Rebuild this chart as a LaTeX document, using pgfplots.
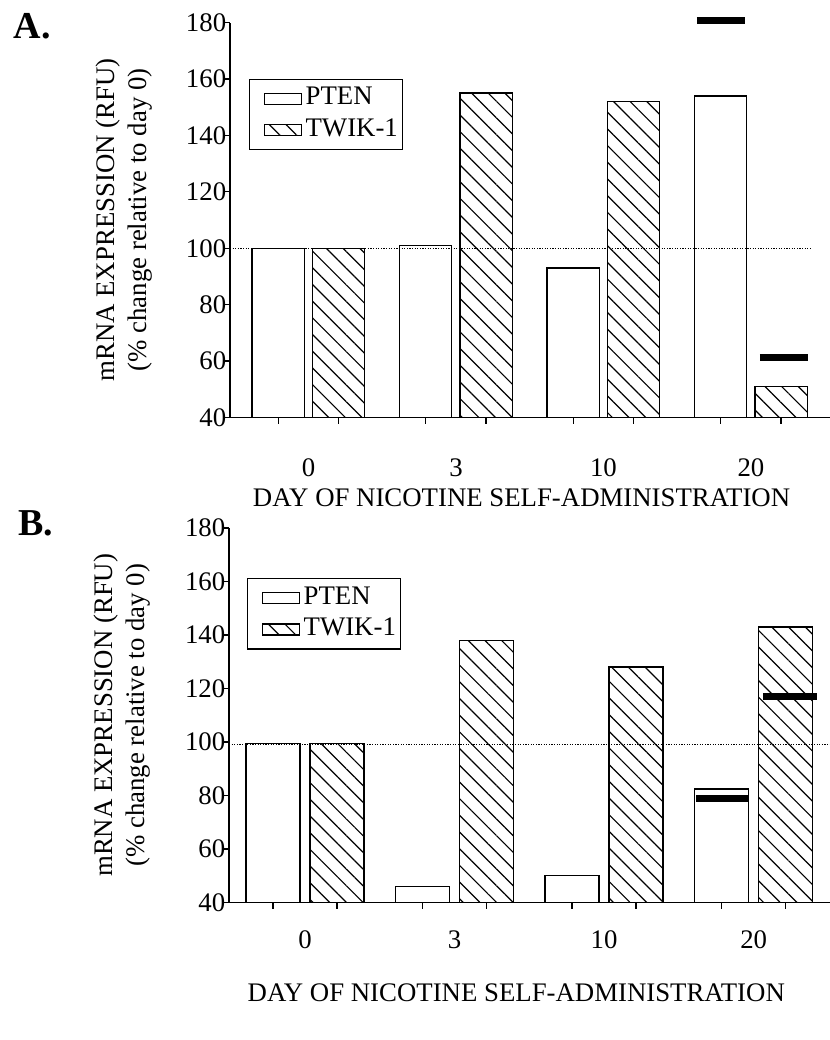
\documentclass[border=0pt]{standalone}
\usepackage{fontspec}
\setmainfont{Liberation Serif}
\usepackage{pgfplots}
\pgfplotsset{compat=1.18}
\usetikzlibrary{patterns.meta}
\newcommand\ff{\fontsize{13.4}{16}\selectfont}

\pgfplotsset{
  panel/.style={
    scale only axis,
    axis x line=bottom, axis y line=left,
    axis line style={-, line width=0.9pt},
    tick align=outside, major tick length=3pt,
    tick style={line width=0.7pt, black},
    clip=false,
    y filter/.expression={y-40},
    ymin=0, ymax=140,
    ytick={0,20,40,60,80,100,120,140},
    yticklabels={40,60,80,100,120,140,160,180},
    yticklabel style={inner sep=0pt, xshift=1.3pt},
    /pgf/number format/assume math mode=true,
    tick label style={font=\ff},
    label style={font=\ff},
    xticklabels={,,,,,,,},
    extra x ticks={0,1,2,3},
    extra x tick labels={0,3,10,20},
    xlabel={DAY OF NICOTINE SELF-ADMINISTRATION},
    ylabel={mRNA EXPRESSION (RFU)\\(\% change relative to day 0)},
    legend cell align=left,
    legend style={font=\ff, draw=black, line width=0.6pt, anchor=north west,
      inner xsep=0.5pt, inner ysep=2pt, row sep=0pt,
      nodes={inner sep=1.8pt, text height=9pt, text depth=3pt}},
  },
  pten/.style={ybar, bar shift=0pt, draw=black, line width=0.7pt, fill=none,
    legend image code/.code={\path (0pt,0pt); \draw[black, line width=0.7pt] (6.5pt,-2.75pt) rectangle (25pt,2.75pt);}},
  twik/.style={ybar, bar shift=0pt, draw=black, line width=0.7pt,
    pattern={Lines[angle=-45,distance=5.9pt,line width=0.6pt]},
    legend image code/.code={\path (0pt,0pt); \draw[black, line width=0.7pt, pattern={Lines[angle=-45,distance=5.9pt,line width=0.6pt]}] (6.5pt,-2.75pt) rectangle (25pt,2.75pt);}},
  sig/.style={black, line width=3.5pt, forget plot},
  ref/.style={black, line width=0.6pt, dash pattern=on 0.6pt off 0.7pt, forget plot},
}

\begin{document}
\ff
\begin{tikzpicture}
\path[use as bounding box] (0,0) rectangle (415pt,-520pt);

\node[font=\fontsize{19}{22}\selectfont\bfseries] at (16.2pt,-13pt) {A.};
\node[font=\fontsize{19}{22}\selectfont\bfseries] at (17.8pt,-261.8pt) {B.};

% Panel A
\begin{axis}[panel, at={(115pt,-208.75pt)}, anchor=south west,
  width=300pt, height=197.5pt,
  xmin=-0.532, xmax=3.536,
  xtick={-0.205,0.205,0.795,1.205,1.795,2.205,2.795,3.205},
  extra x tick style={major tick length=0pt, xticklabel style={yshift=-16pt}},
  xlabel style={at={(axis description cs:0.486,-0.2025)}, anchor=center},
  ylabel style={at={(axis description cs:-0.177,0.5)}, anchor=center, align=center},
  legend style={at={(axis description cs:0.0317,0.858)}},
]
\addplot[pten, bar width=0.353] coordinates {(-0.205,100) (0.795,101) (1.795,93) (2.795,154)};
\addplot[twik, bar width=0.353] coordinates {(0.205,100) (1.205,155) (2.205,152) (3.205,51)};
\legend{PTEN,TWIK-1}
\addplot[ref] coordinates {(-0.532,100) (3.414,100)};
\addplot[sig] coordinates {(2.634,180.6) (2.959,180.6)};
\addplot[sig] coordinates {(3.061,61.2) (3.386,61.2)};
\end{axis}

% Panel B
\begin{axis}[panel, at={(114.5pt,-451.25pt)}, anchor=south west,
  width=300.5pt, height=187.25pt,
  xmin=-0.508, xmax=3.51,
  xtick={-0.214,0.214,0.786,1.214,1.786,2.214,2.786,3.214},
  extra x tick style={major tick length=0pt, xticklabel style={yshift=-9.5pt}},
  xlabel style={at={(axis description cs:0.478,-0.240)}, anchor=center},
  ylabel style={at={(axis description cs:-0.178,0.5)}, anchor=center, align=center},
  legend style={at={(axis description cs:0.030,0.8665)}},
]
\addplot[pten, bar width=0.361] coordinates {(-0.214,99.5) (0.786,46) (1.786,50) (2.786,82.5)};
\addplot[twik, bar width=0.361] coordinates {(0.214,99.5) (1.214,138) (2.214,128) (3.214,143)};
\legend{PTEN,TWIK-1}
\addplot[ref] coordinates {(-0.508,99) (3.51,99)};
\addplot[sig] coordinates {(2.615,79) (2.963,79)};
\addplot[sig] coordinates {(3.064,117) (3.425,117)};
\end{axis}
\end{tikzpicture}
\end{document}
